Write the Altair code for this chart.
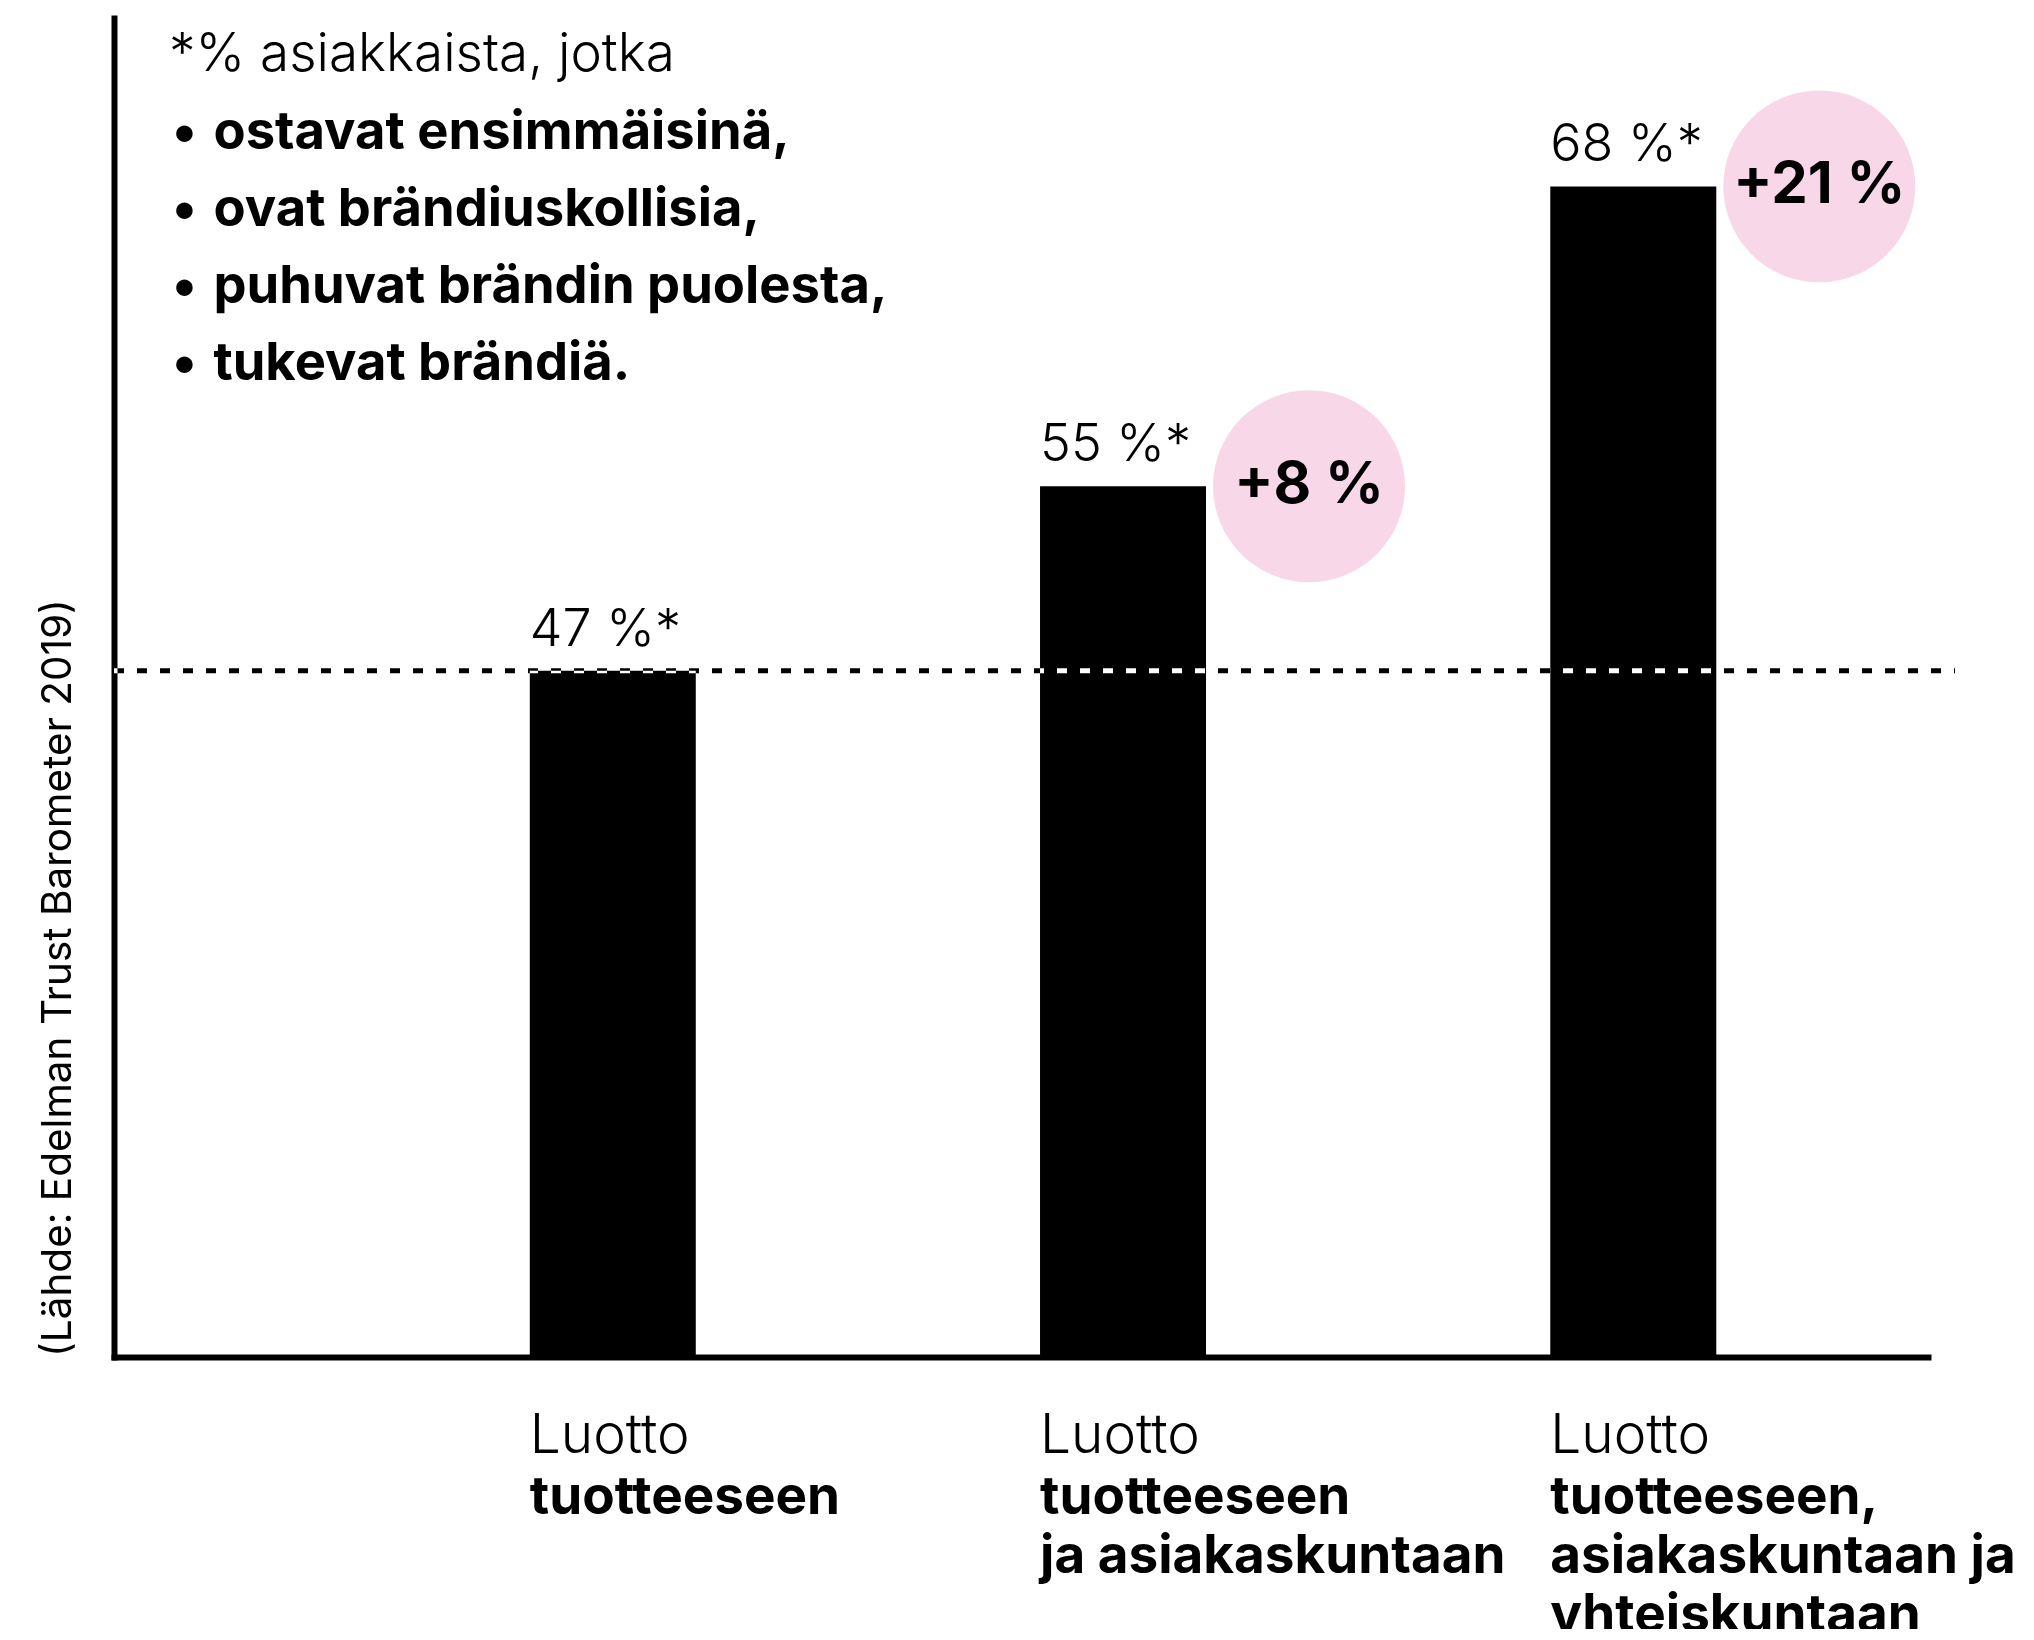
import altair as alt
import pandas as pd

# ---- data ----
categories = ["A", "B", "C"]
values = [47, 55, 68]
value_labels = ["47 %*", "55 %*", "68 %*"]
light_labels = ["Luotto", "Luotto", "Luotto"]
bold_labels = [
    "tuotteeseen",
    "tuotteeseen\nja asiakaskuntaan",
    "tuotteeseen,\nasiakaskuntaan ja\nyhteiskuntaan",
]
delta_cats = ["B", "C"]
delta_values = [55, 68]
delta_labels = ["+8 %", "+21 %"]
reference_value = 47
note_title = "*% asiakkaista, jotka"
note_items = [
    "ostavat ensimmäisinä,",
    "ovat brändiuskollisia,",
    "puhuvat brändin puolesta,",
    "tukevat brändiä.",
]
source_text = "(Lähde: Edelman Trust Barometer 2019)"

Y_MIN, Y_MAX = 17.25, 75.3
W, H = 1814, 1339
FONT = "Inter"
PINK = "#f8d8e8"

df = pd.DataFrame({
    "cat": categories,
    "value": values,
    "vlabel": value_labels,
    "light": light_labels,
    "bold": bold_labels,
})
df_delta = pd.DataFrame({"cat": delta_cats, "value": delta_values, "label": delta_labels})

xscale = alt.Scale(domain=categories, paddingInner=0.6747, paddingOuter=0.6149, align=0.6626)
yscale = alt.Scale(domain=[Y_MIN, Y_MAX], zero=False, nice=False)
xaxis = alt.Axis(labels=False, ticks=False, title=None, grid=False,
                 domainWidth=6, domainColor="black", domainCap="square")
yaxis = alt.Axis(labels=False, ticks=False, title=None, grid=False,
                 domainWidth=6, domainColor="black", domainCap="square")


def X(**kw):
    return alt.X("cat:N", sort=categories, scale=xscale, axis=xaxis, **kw)


def Y(field="value:Q"):
    return alt.Y(field, scale=yscale, axis=yaxis)


base = alt.Chart(df)

bars = base.mark_bar(color="black").encode(
    x=X(), y=Y(), y2=alt.datum(Y_MIN)
)

ref_line = alt.Chart(pd.DataFrame({"v": [reference_value]})).mark_rule(
    color="white", strokeWidth=5, strokeDash=[10, 13], blend="difference"
).encode(y=alt.Y("v:Q", scale=yscale, axis=yaxis), x=alt.value(0), x2=alt.value(W + 27))

circles = alt.Chart(df_delta).mark_point(
    filled=True, shape="circle", size=36864, color=PINK, opacity=1, xOffset=186
).encode(x=X(), y=Y())

circle_text = alt.Chart(df_delta).mark_text(
    font=FONT, fontSize=58, fontWeight="bold", color="black",
    align="center", baseline="middle", xOffset=186
).encode(x=X(), y=Y(), text="label:N")

value_text = base.mark_text(
    font=FONT, fontSize=52, fontWeight=300, color="black",
    align="left", baseline="alphabetic", dy=-25
).encode(x=X(bandPosition=0), y=Y(), text="vlabel:N")

light_text = base.mark_text(
    font=FONT, fontSize=55, fontWeight=300, color="black",
    align="left", baseline="alphabetic", dy=96
).encode(x=X(bandPosition=0), y=alt.datum(Y_MIN), text="light:N")

bold_text = base.mark_text(
    font=FONT, fontSize=53, fontWeight="bold", color="black",
    align="left", baseline="alphabetic", dy=157, lineBreak="\n", lineHeight=59
).encode(x=X(bandPosition=0), y=alt.datum(Y_MIN), text="bold:N")

note_df = pd.DataFrame({"t": [note_title]})
note_title_mark = alt.Chart(note_df).mark_text(
    font=FONT, fontSize=53, fontWeight=300, color="black",
    align="left", baseline="alphabetic"
).encode(x=alt.value(55), y=alt.value(53), text="t:N")

items_df = pd.DataFrame({"t": ["\n".join("\u2022 \u200a" + s for s in note_items)]})
note_items_mark = alt.Chart(items_df).mark_text(
    font=FONT, fontSize=52.5, fontWeight="bold", color="black",
    align="left", baseline="alphabetic", lineBreak="\n", lineHeight=77
).encode(x=alt.value(58), y=alt.value(131), text="t:N")

src_df = pd.DataFrame({"t": [source_text]})
source_mark = alt.Chart(src_df).mark_text(
    font=FONT, fontSize=40.5, color="black", angle=270,
    align="left", baseline="middle"
).encode(x=alt.value(-55), y=alt.value(H), text="t:N")

chart = alt.layer(
    bars, ref_line, circles, circle_text, value_text, light_text, bold_text,
    note_title_mark, note_items_mark, source_mark
).properties(
    width=W, height=H,
    background="white",
    autosize=alt.AutoSizeParams(type="none"),
    padding={"left": 106, "top": 10, "right": 96, "bottom": 272},
).configure_view(stroke=None, strokeWidth=0)

chart.save("out.html", embed_options={"renderer": "svg", "actions": False})
